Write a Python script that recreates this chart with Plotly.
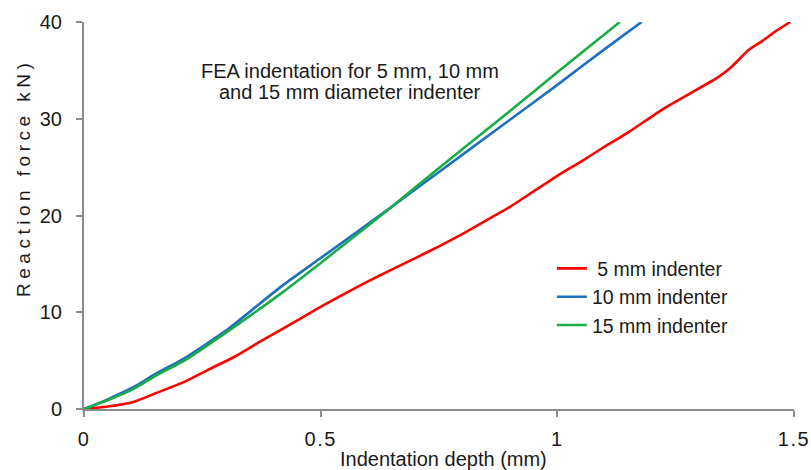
import plotly.graph_objects as go

# Indentation depth (mm) and reaction force (kN)
x_5mm = [0, 0.05, 0.106, 0.15, 0.212, 0.26, 0.318, 0.37, 0.424, 0.494, 0.55, 0.6, 0.65, 0.7, 0.75, 0.8, 0.85,
         0.9, 0.95, 1.0, 1.051, 1.093, 1.15, 1.22, 1.28, 1.34, 1.369, 1.404, 1.432, 1.46, 1.492]
y_5mm = [0, 0.25, 0.76, 1.6, 2.8, 4.0, 5.4, 6.9, 8.4, 10.4, 11.9, 13.2, 14.4, 15.6, 16.8, 18.1, 19.5,
         20.9, 22.5, 24.1, 25.6, 26.9, 28.6, 30.9, 32.6, 34.3, 35.4, 37.1, 38.0, 39.0, 40.0]

x_10mm = [0, 0.05, 0.106, 0.15, 0.212, 0.3, 0.415, 0.5, 0.636, 0.75, 0.9, 1.0, 1.1, 1.178]
y_10mm = [0, 1.0, 2.3, 3.6, 5.24, 8.1, 12.6, 15.6, 20.4, 24.5, 29.9, 33.5, 37.2, 40.0]

x_15mm = [0, 0.05, 0.106, 0.15, 0.212, 0.3, 0.415, 0.5, 0.640, 0.75, 0.9, 1.0, 1.132]
y_15mm = [0, 0.9, 2.1, 3.4, 5.0, 7.9, 11.9, 15.1, 20.5, 24.9, 30.8, 34.8, 40.0]

names = ["\u00a05 mm indenter", "10 mm indenter", "15 mm indenter"]
colors = ["#ff0000", "#1f6fc0", "#1aad47"]

x_ticks = [0, 0.5, 1, 1.5]
x_tick_text = ["0", "0.5", "1", "1.5"]
y_ticks = [0, 10, 20, 30, 40]

FONT = "Liberation Sans, Arial, sans-serif"
TXT = "#1a1a1a"
AXC = "#8c8c8c"


def spaced(s, px):
    return f"<span style='letter-spacing:{px}px'>{s}</span>"


fig = go.Figure()
for i, (xs, ys) in enumerate([(x_5mm, y_5mm), (x_10mm, y_10mm), (x_15mm, y_15mm)]):
    fig.add_trace(go.Scatter(
        x=xs, y=ys, mode="lines", name=names[i], legendgroup=f"g{i}",
        line=dict(color=colors[i], width=2.6, shape="spline", smoothing=0.5),
    ))

fig.update_layout(
    width=811, height=470,
    margin=dict(l=84, r=17, t=22, b=61, autoexpand=False),
    paper_bgcolor="white", plot_bgcolor="white",
    font=dict(family=FONT, size=19, color=TXT),
    showlegend=True,
    legend=dict(
        x=0.659, y=0.413, xanchor="left", yanchor="top",
        font=dict(size=19.5, color=TXT, family=FONT),
        bgcolor="rgba(0,0,0,0)", tracegroupgap=0,
        traceorder="grouped",
    ),
    xaxis=dict(
        range=[0, 1.5], tickvals=x_ticks, ticktext=[spaced(t, 1.5) for t in x_tick_text],
        showgrid=False, zeroline=False, automargin=False,
        showline=True, linecolor=AXC, linewidth=2,
        ticks="outside", ticklen=6, tickcolor=AXC, tickwidth=1.5,
        tickfont=dict(size=20, color=TXT, family=FONT),
        ticklabelstandoff=5,
    ),
    yaxis=dict(
        range=[0, 40], tickvals=y_ticks,
        showgrid=False, zeroline=False, automargin=False,
        showline=True, linecolor=AXC, linewidth=2,
        ticks="outside", ticklen=6, tickcolor=AXC, tickwidth=1.5,
        tickfont=dict(size=20, color=TXT, family=FONT),
        ticklabelstandoff=10,
    ),
    annotations=[
        dict(text="FEA indentation for 5 mm, 10 mm",
             xref="paper", yref="paper", x=0.3746, y=0.874, xanchor="center", yanchor="middle",
             showarrow=False, font=dict(size=20, color=TXT, family=FONT)),
        dict(text="and 15 mm diameter indenter",
             xref="paper", yref="paper", x=0.3746, y=0.820, xanchor="center", yanchor="middle",
             showarrow=False, font=dict(size=20, color=TXT, family=FONT)),
        dict(text=spaced("Reaction force kN)", 4.5), textangle=-90,
             xref="paper", yref="paper", x=-0.0845, y=0.597, xanchor="center", yanchor="middle",
             showarrow=False, font=dict(size=19, color=TXT, family=FONT)),
        dict(text="Indentation depth (mm)",
             xref="paper", yref="paper", x=0.506, y=-0.128, xanchor="center", yanchor="middle",
             showarrow=False, font=dict(size=20, color=TXT, family=FONT)),
    ],
)

fig.write_html(
    "out.html",
    config={"displayModeBar": False},
    post_script="document.body.style.margin='0';document.body.style.overflow='hidden';",
)
